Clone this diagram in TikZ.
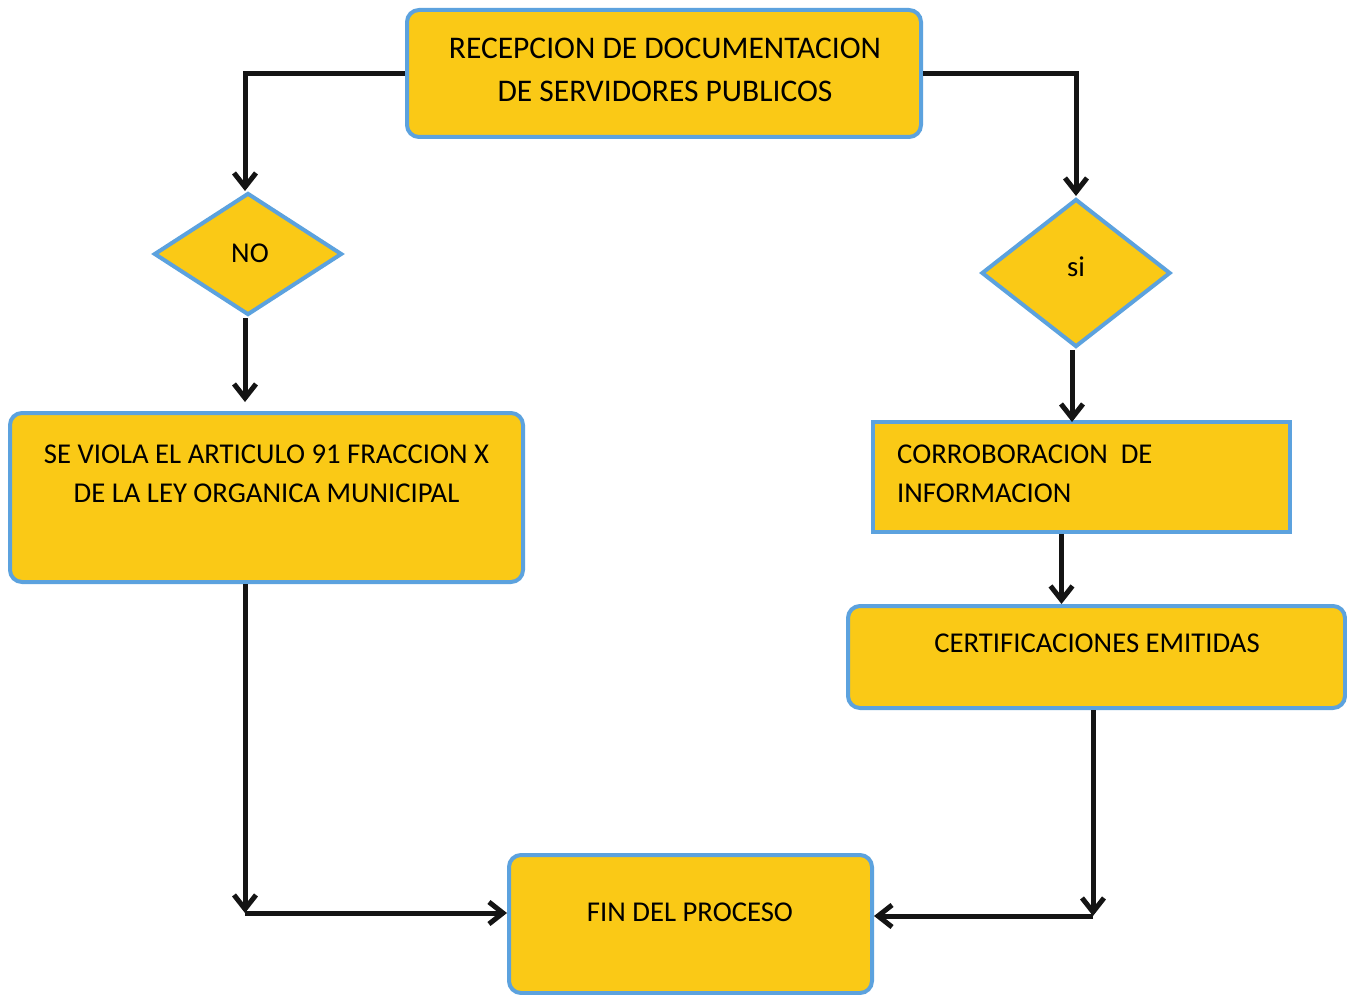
\documentclass[tikz,border=0pt]{standalone}
\usepackage{fontspec}
\setmainfont{Carlito}
\usetikzlibrary{arrows.meta,shapes.geometric}
\definecolor{boxfill}{RGB}{250,201,22}
\definecolor{boxline}{RGB}{92,162,222}
\tikzset{
  procbox/.style={draw=boxline, line width=4pt, fill=boxfill, rounded corners=12pt, inner sep=0pt},
  squarebox/.style={draw=boxline, line width=4pt, fill=boxfill, inner sep=0pt},
  decision/.style={draw=boxline, line width=4pt, fill=boxfill, diamond, inner sep=0pt, aspect=1.3},
  lbl/.style={font=\fontsize{28.7}{39}\selectfont, align=center, inner sep=0pt},
  biglbl/.style={font=\fontsize{31.5}{43}\selectfont, align=center, inner sep=0pt},
  arr/.style={line width=5pt, draw=black!92, -{Straight Barb[length=14pt,width=22pt,line width=5pt]}},
}
\begin{document}
\begin{tikzpicture}[x=1pt,y=-1pt]
  \useasboundingbox (0,0) rectangle (1347,995);
  \fill[white] (0,0) rectangle (1347,995);

  % boxes
  \node[procbox, minimum width=514pt, minimum height=127pt] (top) at (664,73.5) {};
  \node[biglbl] (toptext) at (665,70) {RECEPCION DE DOCUMENTACION\\DE SERVIDORES PUBLICOS};

  \node[decision, minimum width=188pt, minimum height=122pt] (no) at (248,254) {};
  \node[lbl] (notext) at (250,253) {NO};

  \node[decision, minimum width=189pt, minimum height=148pt] (si) at (1076,273) {};
  \node[lbl] (sitext) at (1076,267) {si};

  \node[procbox, minimum width=513pt, minimum height=169pt] (viola) at (266.5,497.5) {};
  \node[lbl] (violatext) at (266.5,474) {SE VIOLA EL ARTICULO 91 FRACCION X\\DE LA LEY ORGANICA MUNICIPAL};

  \node[squarebox, minimum width=417pt, minimum height=110pt] (corr) at (1081.5,477) {};
  \node[lbl, align=left, anchor=west] (corrtext) at (897,474) {CORROBORACION\ \ DE\\INFORMACION};

  \node[procbox, minimum width=497pt, minimum height=102pt] (cert) at (1096.5,657) {};
  \node[lbl] (certtext) at (1097,643) {CERTIFICACIONES EMITIDAS};

  \node[procbox, minimum width=363pt, minimum height=138pt] (fin) at (690.5,924) {};
  \node[lbl] (fintext) at (690,912) {FIN DEL PROCESO};

  % connectors
  \coordinate (lc) at (245,913);
  \coordinate (rc) at (1093,916);
  \draw[arr] (top.west) -| (245,191);
  \draw[arr] (top.east) -| (1076,196);
  \draw[arr] (245,318) -- (245,402);
  \draw[arr] (1072,350) -- (1072,422);
  \draw[arr] ([xshift=-20pt]corr.south) -- ([xshift=-35pt]cert.north);
  \draw[arr] (viola.south -| lc) -- (lc);
  \draw[arr] (lc) -- (lc -| fin.west);
  \draw[arr] (cert.south -| rc) -- (rc);
  \draw[arr] (rc) -- (rc -| fin.east);
\end{tikzpicture}
\end{document}
